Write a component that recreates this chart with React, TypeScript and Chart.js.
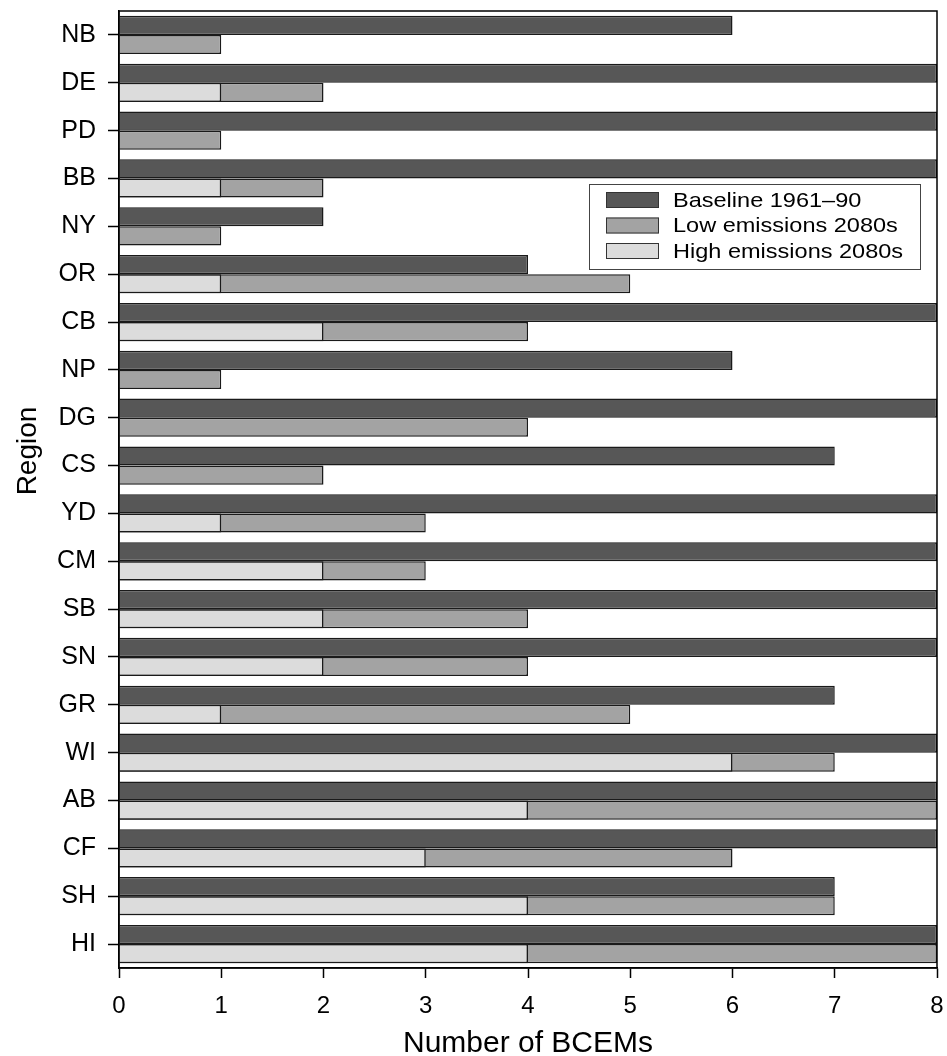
import React, { useEffect, useRef } from "react";
import { Chart, registerables } from "chart.js";

Chart.register(...registerables);

const regions = ["NB", "DE", "PD", "BB", "NY", "OR", "CB", "NP", "DG", "CS", "YD", "CM", "SB", "SN", "GR", "WI", "AB", "CF", "SH", "HI"];
const baseline = [6, 8, 8, 8, 2, 4, 8, 6, 8, 7, 8, 8, 8, 8, 7, 8, 8, 8, 7, 8];
const lowEmissions = [1, 2, 1, 2, 1, 5, 4, 1, 4, 2, 3, 3, 4, 4, 5, 7, 8, 6, 7, 8];
const highEmissions = [0, 1, 0, 1, 0, 1, 2, 0, 0, 0, 1, 2, 2, 2, 1, 6, 4, 3, 4, 4];
const seriesLabels = ["Baseline 1961\u201390", "Low emissions 2080s", "High emissions 2080s"];
const xTickValues = [0, 1, 2, 3, 4, 5, 6, 7, 8];
const xTitle = "Number of BCEMs";
const yTitle = "Region";

const FONT = "'Liberation Sans', Arial, Helvetica, sans-serif";
const DARK = "#575757";
const MID = "#a3a3a3";
const LIGHT = "#dcdcdc";
const EDGE = "#1a1a1a";

const framePlugin = {
  id: "frame",
  afterDatasetsDraw(chart: any) {
    const { ctx, chartArea } = chart;
    ctx.save();
    ctx.strokeStyle = "#000";
    ctx.lineWidth = 1.5;
    ctx.strokeRect(chartArea.left, chartArea.top, chartArea.right - chartArea.left, chartArea.bottom - chartArea.top);
    ctx.restore();
  },
};

const yTitlePlugin = {
  id: "yTitle",
  afterDraw(chart: any) {
    const { ctx } = chart;
    ctx.save();
    ctx.translate(28, 451);
    ctx.rotate(-Math.PI / 2);
    ctx.font = `28px ${FONT}`;
    ctx.fillStyle = "#000";
    ctx.textAlign = "center";
    ctx.textBaseline = "middle";
    ctx.fillText(yTitle, 0, 0);
    ctx.restore();
  },
};

const legendPlugin = {
  id: "boxLegend",
  afterDraw(chart: any) {
    const { ctx } = chart;
    const bx = 589, by = 184, bw = 331, bh = 85;
    ctx.save();
    ctx.fillStyle = "#fff";
    ctx.fillRect(bx, by, bw, bh);
    ctx.strokeStyle = "#444";
    ctx.lineWidth = 1;
    ctx.strokeRect(bx + 0.5, by + 0.5, bw, bh);
    const rows = [200, 225.5, 251];
    chart.data.datasets.forEach((ds: any, i: number) => {
      const cy = rows[i];
      ctx.fillStyle = ds.backgroundColor;
      ctx.fillRect(606, cy - 8, 53, 16);
      ctx.strokeStyle = "#333";
      ctx.lineWidth = 1;
      ctx.strokeRect(606.5, cy - 7.5, 52, 15);
      ctx.fillStyle = "#000";
      ctx.font = `21px ${FONT}`;
      ctx.textAlign = "left";
      ctx.textBaseline = "middle";
      ctx.save();
      ctx.translate(673, cy + 1);
      ctx.scale(1.12, 1);
      ctx.fillText(ds.label, 0, 0);
      ctx.restore();
    });
    ctx.restore();
  },
};

export default function App() {
  const canvasRef = useRef<HTMLCanvasElement | null>(null);

  useEffect(() => {
    document.body.style.margin = "0";
    const canvas = canvasRef.current;
    if (!canvas) return;
    const chart = new Chart(canvas, {
      type: "bar",
      data: {
        labels: regions,
        datasets: [
          {
            label: seriesLabels[0],
            data: baseline,
            backgroundColor: DARK,
            borderColor: EDGE,
            borderWidth: 1.5,
            stack: "base",
            order: 0,
          },
          {
            label: seriesLabels[1],
            data: lowEmissions,
            backgroundColor: MID,
            borderColor: EDGE,
            borderWidth: 1.5,
            stack: "future",
            order: 1,
          },
          {
            label: seriesLabels[2],
            data: highEmissions,
            backgroundColor: LIGHT,
            borderColor: EDGE,
            borderWidth: 1.5,
            stack: "future",
            order: 0,
          },
        ],
      },
      options: {
        indexAxis: "y",
        animation: false,
        responsive: true,
        maintainAspectRatio: false,
        layout: { padding: { left: 0, right: 10, top: 11, bottom: 0 } },
        datasets: {
          bar: { categoryPercentage: 0.8, barPercentage: 1.0 },
        },
        plugins: {
          legend: { display: false },
          tooltip: { enabled: false },
        },
        scales: {
          x: {
            type: "linear",
            stacked: false,
            min: 0,
            max: 8,
            afterBuildTicks(scale: any) {
              scale.ticks = xTickValues.map((v) => ({ value: v }));
            },
            afterFit(scale: any) {
              scale.height = 88;
              scale.paddingLeft = 0;
              scale.paddingRight = 0;
            },
            grid: {
              drawOnChartArea: false,
              drawTicks: true,
              tickLength: 10,
              tickWidth: 1.5,
              tickColor: "#000",
            },
            border: { display: true, color: "#000", width: 1.5 },
            ticks: {
              color: "#000",
              font: { family: FONT, size: 24 },
              padding: 14,
              callback: (v: any) => String(v),
            },
            title: {
              display: true,
              text: xTitle,
              color: "#000",
              font: { family: FONT, size: 30, lineHeight: 0.8 },
              padding: { top: 0, bottom: 0 },
            },
          },
          y: {
            type: "category",
            afterFit(scale: any) {
              scale.width = 119;
              scale.paddingTop = 0;
              scale.paddingBottom = 0;
            },
            grid: {
              offset: false,
              drawOnChartArea: false,
              drawTicks: true,
              tickLength: 11,
              tickWidth: 1.5,
              tickColor: "#000",
            },
            border: { display: true, color: "#000", width: 1.5 },
            ticks: {
              color: "#000",
              font: { family: FONT, size: 25 },
              padding: 12,
              autoSkip: false,
            },
          },
        },
      },
      plugins: [framePlugin, yTitlePlugin, legendPlugin],
    } as any);
    return () => chart.destroy();
  }, []);

  return (
    <div style={{ width: 947, height: 1056, position: "relative" }}>
      <canvas ref={canvasRef} />
    </div>
  );
}
